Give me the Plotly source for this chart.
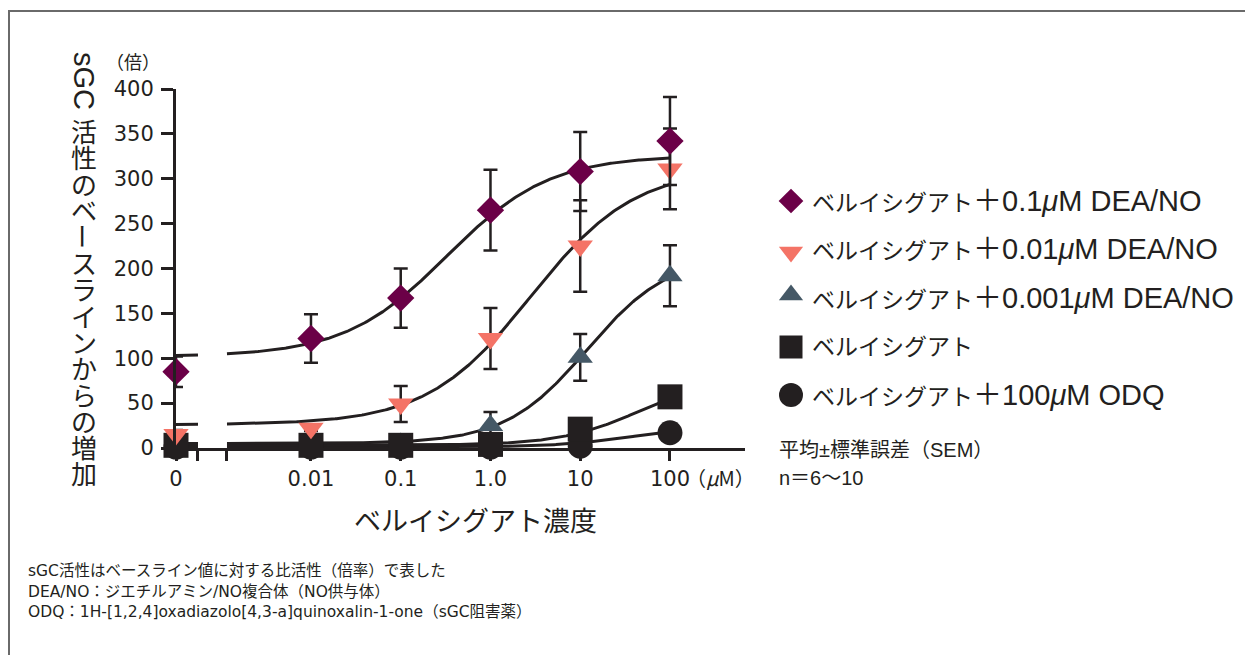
import numpy as np
import plotly.graph_objects as go

W, H = 1245, 655

# belizig concentration (µM); 0 = vehicle
conc = [0, 0.01, 0.1, 1.0, 10, 100]
conc_labels = ["0", "0.01", "0.1", "1.0", "10", "100"]

# sGC activity, fold increase over baseline (mean, SEM)
dea_01_mean = [85, 122, 167, 265, 308, 342]
dea_01_sem = [17, 27, 33, 45, 44, 49]
dea_001_mean = [15, 22, 49, 122, 225, 311]
dea_001_sem = [5, 3, 20, 34, 51, 45]
dea_0001_mean = [4, 5, 5, 25, 101, 192]
dea_0001_sem = [1, 1, 1, 15, 26, 34]
rio_mean = [3, 3, 3, 4, 21, 57]
odq_mean = [1, 1, 1, 1, 2, 17]

# four-parameter logistic fits: bottom, top, logEC50, Hill slope
fit_dea_01 = [102, 326, -0.485, 0.76]
fit_dea_001 = [26, 312, 0.45, 0.75]
fit_dea_0001 = [5, 215, 1.08, 0.95]
fit_rio = [3, 80, 1.67, 0.97]
fit_odq = [1, 25, 1.6, 1.0]

series_names = [
    "ベルイシグアト＋0.1μM DEA/NO",
    "ベルイシグアト＋0.01μM DEA/NO",
    "ベルイシグアト＋0.001μM DEA/NO",
    "ベルイシグアト",
    "ベルイシグアト＋100μM ODQ",
]

INK = "#231f20"
C_DIAMOND = "#6b0047"
C_TRI_DOWN = "#f47366"
C_TRI_UP = "#455866"

# log-axis layout: the vehicle group sits at the left edge, axis broken after it
X_MIN, X_MAX = -3.504, 2.836
ZERO_POS = 10 ** X_MIN
BREAK_L, BREAK_R = 10 ** -3.259, 10 ** -2.936

x_plot = [ZERO_POS if c == 0 else c for c in conc]

# plot-area edges in figure pixels
PLOT_L, PLOT_R, PLOT_T, PLOT_B = 176, 745, 89, 448


def logistic(logx, p):
    bottom, top, logec50, hill = p
    return bottom + (top - bottom) / (1 + 10 ** ((logec50 - logx) * hill))


fig = go.Figure()

# fitted curves, drawn in two pieces around the axis break
seg_left = np.linspace(X_MIN, np.log10(BREAK_L), 10)
seg_right = np.linspace(np.log10(BREAK_R), 2, 300)
for p in [fit_odq, fit_rio, fit_dea_0001, fit_dea_001, fit_dea_01]:
    for seg in (seg_left, seg_right):
        fig.add_trace(go.Scatter(
            x=10 ** seg, y=logistic(seg, p), mode="lines",
            line=dict(color=INK, width=3), showlegend=False, hoverinfo="skip",
            xaxis="x", yaxis="y"))

err_style = dict(type="data", color=INK, thickness=2.5, width=7)
point_sets = [
    (odq_mean, None, "circle", INK, 25),
    (dea_0001_mean, dea_0001_sem, "triangle-up", C_TRI_UP, 22),
    (rio_mean, None, "square", INK, 25),
    (dea_001_mean, dea_001_sem, "triangle-down", C_TRI_DOWN, 22),
    (dea_01_mean, dea_01_sem, "diamond", C_DIAMOND, 21),
]
for mean, sem, sym, col, size in point_sets:
    fig.add_trace(go.Scatter(
        x=x_plot, y=mean, mode="markers",
        marker=dict(symbol=sym, color=col, size=size, line=dict(width=0)),
        error_y=(dict(array=sem, **err_style) if sem else dict(visible=False)),
        cliponaxis=False, showlegend=False, xaxis="x", yaxis="y"))

# legend glyphs on an overlay axis measured in figure pixels
legend_rows = [201, 249, 298, 347, 395]
legend_syms = [("diamond", C_DIAMOND, 19), ("triangle-down", C_TRI_DOWN, 21),
               ("triangle-up", C_TRI_UP, 21), ("square", INK, 23), ("circle", INK, 24)]
for (sym, col, size), yy in zip(legend_syms, legend_rows):
    fig.add_trace(go.Scatter(
        x=[791], y=[yy + (3 if sym == "triangle-down" else -3 if sym == "triangle-up" else 0)],
        mode="markers", marker=dict(symbol=sym, color=col, size=size, line=dict(width=0)),
        showlegend=False, hoverinfo="skip", xaxis="x2", yaxis="y2", cliponaxis=False))

LAT = "Liberation Sans, Noto Sans CJK JP"
CJK = "Noto Sans CJK JP"
NUM = "DejaVu Sans, Noto Sans CJK JP"

ann = []


def px_text(x, y, text, size, family=CJK, xanchor="left", yanchor="middle", angle=0):
    ann.append(dict(x=x, y=y, xref="x2", yref="y2", text=text, showarrow=False,
                    xanchor=xanchor, yanchor=yanchor, textangle=angle,
                    font=dict(family=family, size=size, color=INK)))


for name, yy in zip(series_names, legend_rows):
    kata = "ベルイシグアト"
    rest = name[len(kata):].replace("μ", "<i>μ</i>")
    px_text(810, yy, f'<span style="font-size:23px">{kata}</span>{rest}', 29, family=LAT)

# vertical y-axis title: Latin part turned, kana/kanji stacked upright,
# the long-vowel mark turned as in vertical typesetting
Y_TITLE_X = 84
Y_STEP = 26.3
Y_FIRST = 131
px_text(Y_TITLE_X, 81, "sGC", 29, family=LAT, xanchor="center", angle=90)
title_chars = "活性のベースラインからの増加"
runs, cur = [], []
for i, ch in enumerate(title_chars):
    if ch == "ー":
        if cur:
            runs.append(cur)
            cur = []
        runs.append([(i, ch)])
    else:
        cur.append((i, ch))
if cur:
    runs.append(cur)
for run in runs:
    mid = Y_FIRST + Y_STEP * (run[0][0] + run[-1][0]) / 2
    if run[0][1] == "ー":
        px_text(Y_TITLE_X, mid, "ー", 26, xanchor="center", angle=90)
    else:
        body = "<br>".join(f'<span style="font-size:26px">{c}</span>' for _, c in run)
        px_text(Y_TITLE_X, mid, body, Y_STEP / 1.3, xanchor="center")

px_text(133, 61, "（倍）", 18, xanchor="center")
px_text(720, 477, "（<i>μ</i>M）", 20, family=CJK, xanchor="center")
px_text(475, 519, "ベルイシグアト濃度", 27, xanchor="center")
px_text(777, 450, "平均±標準誤差（SEM）", 20, family=LAT)
px_text(777, 478, "n＝6〜10", 20, family=LAT)

notes = [
    "sGC活性はベースライン値に対する比活性（倍率）で表した",
    "DEA/NO：ジエチルアミン/NO複合体（NO供与体）",
    "ODQ：1H-[1,2,4]oxadiazolo[4,3-a]quinoxalin-1-one（sGC阻害薬）",
]
for i, line in enumerate(notes):
    px_text(26, 571 + 20.5 * i, line, 15.5, family=NUM)

fig.update_layout(
    template="none",
    width=W, height=H, margin=dict(l=0, r=0, t=0, b=0, pad=0, autoexpand=False),
    paper_bgcolor="white", plot_bgcolor="rgba(0,0,0,0)",
    showlegend=False, hovermode="closest",
    annotations=ann,
    xaxis=dict(
        type="log", range=[X_MIN, X_MAX],
        domain=[PLOT_L / W, PLOT_R / W],
        tickvals=[ZERO_POS, BREAK_L, BREAK_R] + conc[1:],
        ticktext=[conc_labels[0], "", ""] + conc_labels[1:],
        showline=True, linewidth=3, linecolor=INK, ticks="outside",
        ticklen=10, tickwidth=3, tickcolor=INK, showgrid=False, zeroline=False,
        tickfont=dict(family=NUM, size=21, color=INK), ticklabelstandoff=0,
        automargin=False, anchor="y"),
    yaxis=dict(
        range=[0, 400],
        domain=[(H - PLOT_B) / H, (H - PLOT_T) / H],
        tickmode="linear", tick0=0, dtick=50,
        showline=True, linewidth=3, linecolor=INK, ticks="outside",
        ticklen=12, tickwidth=3, tickcolor=INK, showgrid=False, zeroline=False,
        tickfont=dict(family=NUM, size=21, color=INK), ticklabelstandoff=3,
        automargin=False, anchor="x"),
    xaxis2=dict(domain=[0, 1], range=[0, W], visible=False, automargin=False,
                fixedrange=True, anchor="y2"),
    yaxis2=dict(domain=[0, 1], range=[H, 0], visible=False, automargin=False,
                fixedrange=True, anchor="x2"),
    shapes=[dict(type="rect", xref="x2", yref="y2",
                 x0=9, x1=W + 20, y0=11, y1=H + 20,
                 line=dict(color="#6a6a6a", width=2))],
)

fig.write_html("out.html")
